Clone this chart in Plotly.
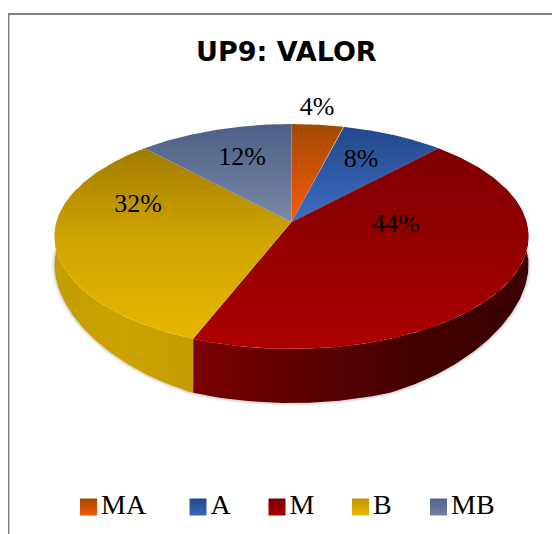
import numpy as np
import plotly.graph_objects as go

# ---- data ----
categories = ["MA", "A", "M", "B", "MB"]
percentages = [4, 8, 44, 32, 12]
title_text = "UP9: VALOR"

# ---- styling ----
top_gradients = [
    ["#a04a06", "#fa5a00"],
    ["#24488a", "#3b6dc4"],
    ["#7e0000", "#ad0000"],
    ["#a37c00", "#d2a600", "#e8b600"],
    ["#4d5f86", "#7b88a6"],
]
wall_gradients = {
    "M": ["#7a0000", "#5c0000", "#430000", "#3a0000"],
    "B": ["#c49c00", "#cda300", "#c49c00"],
}
swatch_bright = ["#f55a00", "#3468bd", "#a80000", "#ecb900", "#717fa3"]
swatch_dark = ["#a04a06", "#27498a", "#780000", "#c09300", "#53648a"]
label_offsets = {"MA": (317, 108), "A": (361, 160), "M": (396, 225), "B": (138, 205), "MB": (242, 158)}
legend_x = [88.5, 198, 277, 360.5, 438.5]

CX, CY, BX, BY, K = 291.5, 222.0, 235.0, 110.6, 0.129
DEPTH_SIDE, DEPTH_EXTRA = 28.0, 26.0


def project(theta):
    u = np.sin(theta)
    v = np.cos(theta)
    w = 1 + K * v
    return CX + BX * u / w, CY - BY * v / w


def wall_depth(theta):
    # the near part of the rim looks taller than the sides
    front = np.clip(-np.cos(theta) / 0.93, 0, 1)
    return DEPTH_SIDE + DEPTH_EXTRA * front ** 2


def ramp(colors, vertical=True):
    n = len(colors) - 1
    scale = [[i / n, c] for i, c in enumerate(colors)]
    return dict(type="vertical" if vertical else "horizontal", colorscale=scale)


values = np.array(percentages, dtype=float)
edges = np.concatenate([[0], np.cumsum(values)]) / values.sum() * 2 * np.pi

fig = go.Figure()


def poly(xs, ys, **kw):
    fig.add_trace(go.Scatter(x=xs, y=ys, mode="lines", fill="toself", line=dict(width=0),
                             hoverinfo="skip", showlegend=False, **kw))


# soft shadow below the cake, drawn as widening translucent outlines
th = np.linspace(np.pi * 0.45, np.pi * 1.52, 240)
sx, sy = project(th)
for width, alpha in [(7, 0.05), (4.5, 0.08), (2.5, 0.12)]:
    fig.add_trace(go.Scatter(x=sx, y=sy + wall_depth(th), mode="lines",
                             line=dict(color=f"rgba(90,95,115,{alpha})", width=width),
                             hoverinfo="skip", showlegend=False))

# outer walls of the front slices
for i in (3, 2):
    name = categories[i]
    lo = max(edges[i], np.pi * 0.40)
    hi = min(edges[i + 1], np.pi * 1.60)
    th = np.linspace(lo, hi, 160)
    x, y = project(th)
    poly(np.concatenate([x, x[::-1]]), np.concatenate([y, (y + wall_depth(th))[::-1]]),
         fillgradient=ramp(wall_gradients[name], vertical=False))

# top faces (the colour ramps run bottom to top on this reversed axis)
for i, name in enumerate(categories):
    th = np.linspace(edges[i], edges[i + 1], 160)
    x, y = project(th)
    poly(np.concatenate([[CX], x, [CX]]), np.concatenate([[CY], y, [CY]]),
         fillgradient=ramp(top_gradients[i][::-1]))

# percentage labels
for name, pct in zip(categories, percentages):
    lx, ly = label_offsets[name]
    fig.add_trace(go.Scatter(x=[lx], y=[ly], mode="text", text=[f"{pct}%"], textposition="middle center",
                             textfont=dict(family="Liberation Serif", size=26, color="#000000"),
                             hoverinfo="skip", showlegend=False))

# legend
for name, bright, dark, lx in zip(categories, swatch_bright, swatch_dark, legend_x):
    fig.add_trace(go.Scatter(x=[lx], y=[507], mode="markers",
                             marker=dict(symbol="square", size=17, color=dark, line=dict(width=0),
                                         gradient=dict(type="vertical", color=bright)),
                             hoverinfo="skip", showlegend=False))
    fig.add_trace(go.Scatter(x=[lx + 12.5], y=[507], mode="text", text=[name], textposition="middle right",
                             textfont=dict(family="Liberation Serif", size=28, color="#000000"),
                             hoverinfo="skip", showlegend=False))

fig.update_layout(
    width=552, height=526, margin=dict(l=0, r=0, t=0, b=0),
    paper_bgcolor="white", plot_bgcolor="white", showlegend=False,
    xaxis=dict(range=[8, 560], visible=False, fixedrange=True),
    yaxis=dict(range=[534, 8], visible=False, fixedrange=True),
    annotations=[dict(x=286.5, y=51, xref="x", yref="y", text=f"<b>{title_text}</b>", showarrow=False,
                      font=dict(family="DejaVu Sans", size=27, color="#000000"))],
    shapes=[dict(type="line", x0=8.75, x1=8.75, y0=14, y1=534, line=dict(color="#808080", width=1.5)),
            dict(type="line", x0=8, x1=560, y0=14, y1=14, line=dict(color="#808080", width=2))],
)
fig.write_html("out.html")
